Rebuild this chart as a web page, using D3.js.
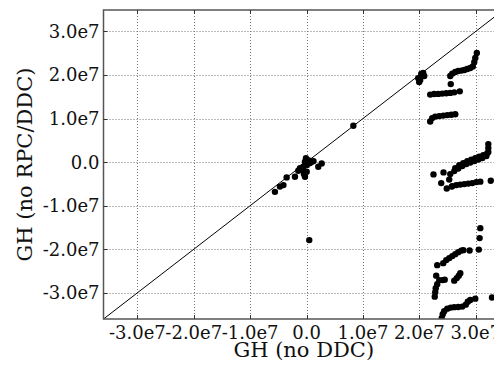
<!DOCTYPE html>
<html>
<head>
<meta charset="utf-8">
<style>
  body { margin: 0; background: #fff; }
  svg { display: block; }
  text { font-family: 'DejaVu Serif', serif; fill: #111; }
  .tick-label { font-size: 18px; }
  .axis-label { font-size: 21px; }
</style>
</head>
<body>
<svg width="494" height="369"></svg>
<script src="https://d3js.org/d3.v7.min.js"></script>
<script>
// all values in units of 1e7
const tickValues = [-3, -2, -1, 0, 1, 2, 3];
const tickLabels = ["-3.0e7", "-2.0e7", "-1.0e7", "0.0", "1.0e7", "2.0e7", "3.0e7"];

const originCluster = [[-0.561,-0.682],[-0.472,-0.562],[-0.410,-0.528],[-0.353,-0.351],[-0.206,-0.337],
  [-0.147,-0.200],[-0.117,-0.138],[-0.082,-0.184],[-0.059,-0.108],[-0.046,-0.275],[-0.028,-0.337],
  [0.002,-0.223],[-0.028,0.007],[-0.011,0.092],[0.007,-0.069],[0.030,0.046],[0.060,-0.023],
  [0.091,0.007],[0.123,0.023],[0.208,-0.108],[0.268,-0.030]];
const loners = [[0.829,0.833],[0.048,-1.790]];
const diagCluster = [[1.979,1.928],[2.014,1.882],[2.032,2.020],[2.067,2.043],[2.085,1.974],[1.996,1.836]];
const upperArc = [[2.547,1.974],[2.583,2.031],[2.636,2.066],[2.689,2.089],[2.743,2.100],[2.796,2.112],
  [2.849,2.135],[2.902,2.158],[2.947,2.192],[2.973,2.295],[2.991,2.387],[3.018,2.502],[2.556,1.790]];
const midArc = [[2.192,1.549],[2.263,1.561],[2.334,1.565],[2.405,1.572],[2.476,1.579],[2.547,1.588],
  [2.618,1.600],[2.716,1.623]];
const lowArc = [[2.192,0.930],[2.227,1.010],[2.281,1.044],[2.352,1.056],[2.423,1.067],[2.494,1.079],
  [2.565,1.086],[2.636,1.097]];
const zeroBand = [[2.547,-0.275],[2.618,-0.207],[2.689,-0.149],[2.760,-0.092],[2.832,-0.046],[2.902,-0.011],
  [2.973,0.023],[3.044,0.057],[3.115,0.092],[3.187,0.138],[3.222,0.230],[3.222,0.321],[3.222,0.413],
  [2.636,-0.138],[2.707,-0.069],[2.778,-0.023],[2.849,0.023],[2.920,0.057],[2.991,0.092],[3.062,0.126],
  [3.133,0.161],[3.204,0.207],
  [2.250,-0.282],[2.428,-0.236],[2.387,-0.482],[2.529,-0.402],[2.485,-0.604],[2.574,-0.562],
  [2.583,-0.551],[2.654,-0.528],[2.725,-0.516],[2.796,-0.505],[2.867,-0.493],[2.938,-0.482],
  [3.009,-0.459],[3.080,-0.448],[3.266,-0.429]];
const lowerBand = [[3.080,-1.515],[3.068,-1.744],[3.053,-2.008],[2.890,-2.027],
  [2.316,-2.364],[2.423,-2.318],[2.476,-2.249],[2.529,-2.203],[2.583,-2.157],[2.636,-2.112],
  [2.689,-2.066],[2.743,-2.031],[2.778,-2.020],
  [2.618,-2.720],[2.663,-2.662],[2.698,-2.605],[2.725,-2.548],
  [2.298,-2.605],[2.352,-2.708],[2.414,-2.708],[2.449,-2.697],[2.316,-2.800],[2.290,-2.892],
  [2.281,-2.984],[2.272,-3.087]];
const bottomArc = [[2.396,-3.580],[2.414,-3.489],[2.440,-3.420],[2.494,-3.362],[2.556,-3.339],
  [2.618,-3.328],[2.689,-3.323],[2.760,-3.316],[2.822,-3.271],[2.858,-3.202],[2.902,-3.163],
  [2.991,-3.133],[3.288,-3.105]];

const points = [].concat(originCluster, loners, diagCluster, upperArc, midArc, lowArc,
  zeroBand, lowerBand, bottomArc);

const plot = { left: 103.5, right: 504, top: 10, bottom: 319 };

const svg = d3.select("svg");

const x = d3.scaleLinear().domain([-3.6, 3.5]).range([plot.left, plot.right]);
const y = d3.scaleLinear().domain([-3.6, 3.49]).range([plot.bottom, plot.top]);

svg.append("clipPath").attr("id", "clip")
  .append("rect")
  .attr("x", plot.left).attr("y", plot.top)
  .attr("width", plot.right - plot.left).attr("height", plot.bottom - plot.top);

// grid
const grid = svg.append("g")
  .attr("stroke", "#777")
  .attr("stroke-width", 1)
  .attr("stroke-dasharray", "1,2");
grid.selectAll(".gx").data(tickValues).join("line")
  .attr("x1", d => Math.round(x(d)) + 0.5).attr("x2", d => Math.round(x(d)) + 0.5)
  .attr("y1", plot.top).attr("y2", plot.bottom);
grid.selectAll(".gy").data(tickValues).join("line")
  .attr("y1", d => Math.round(y(d)) + 0.5).attr("y2", d => Math.round(y(d)) + 0.5)
  .attr("x1", plot.left).attr("x2", plot.right);

const inner = svg.append("g").attr("clip-path", "url(#clip)");

// y = x reference line
inner.append("line")
  .attr("x1", x(-3.6)).attr("y1", y(-3.6))
  .attr("x2", x(3.6)).attr("y2", y(3.6))
  .attr("stroke", "#000").attr("stroke-width", 1);

inner.selectAll("circle").data(points).join("circle")
  .attr("cx", d => x(d[0]))
  .attr("cy", d => y(d[1]))
  .attr("r", 3.2)
  .attr("fill", "#000");

// spines
svg.append("rect")
  .attr("x", plot.left).attr("y", plot.top)
  .attr("width", plot.right - plot.left).attr("height", plot.bottom - plot.top)
  .attr("fill", "none").attr("stroke", "#555").attr("stroke-width", 1.5);

// inward ticks
const ticks = svg.append("g").attr("stroke", "#333").attr("stroke-width", 1);
tickValues.forEach(d => {
  const px = Math.round(x(d)) + 0.5, py = Math.round(y(d)) + 0.5;
  ticks.append("line").attr("x1", px).attr("x2", px).attr("y1", plot.top).attr("y2", plot.top + 4);
  ticks.append("line").attr("x1", px).attr("x2", px).attr("y1", plot.bottom).attr("y2", plot.bottom - 4);
  ticks.append("line").attr("y1", py).attr("y2", py).attr("x1", plot.left).attr("x2", plot.left + 4);
});

// tick labels
svg.append("g").selectAll("text").data(tickValues).join("text")
  .attr("class", "tick-label")
  .attr("x", d => x(d))
  .attr("y", plot.bottom + 20)
  .attr("text-anchor", "middle")
  .text((d, i) => tickLabels[i]);

svg.append("g").selectAll("text").data(tickValues).join("text")
  .attr("class", "tick-label")
  .attr("x", plot.left - 4)
  .attr("y", d => y(d))
  .attr("dy", "0.36em")
  .attr("text-anchor", "end")
  .text((d, i) => tickLabels[i]);

// axis titles
svg.append("text")
  .attr("class", "axis-label")
  .attr("x", (plot.left + plot.right) / 2)
  .attr("y", 357)
  .attr("text-anchor", "middle")
  .text("GH (no DDC)");

svg.append("text")
  .attr("class", "axis-label")
  .attr("transform", `translate(32,${(plot.top + plot.bottom) / 2}) rotate(-90)`)
  .attr("text-anchor", "middle")
  .text("GH (no RPC/DDC)");
</script>
</body>
</html>
